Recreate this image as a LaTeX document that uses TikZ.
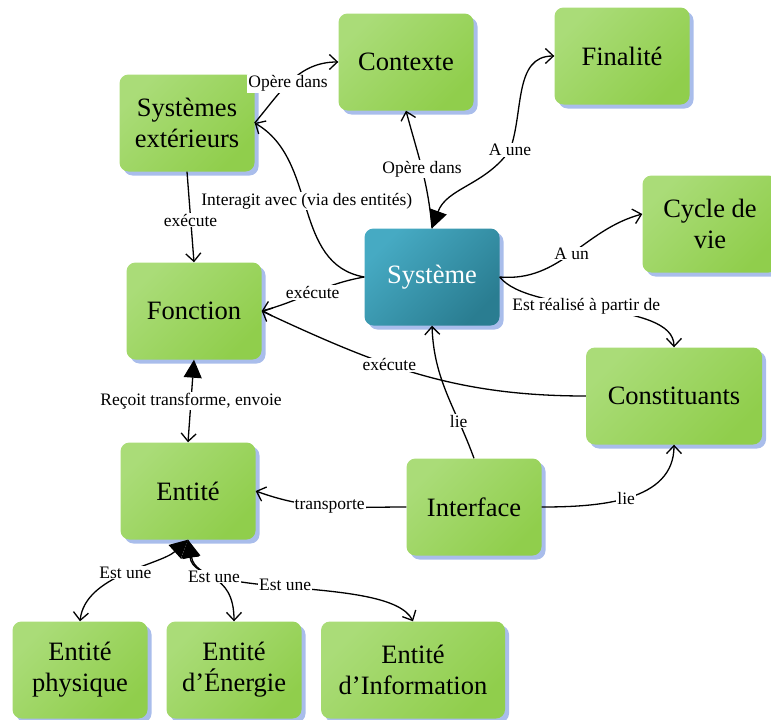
\documentclass[tikz,border=0pt]{standalone}
\usepackage{fontspec}
\setmainfont{Liberation Serif}
\usetikzlibrary{arrows.meta, shadows}

\definecolor{vertclair}{HTML}{AADC78}
\definecolor{vertfonce}{HTML}{90CE4C}
\definecolor{bleuclair}{HTML}{46AAC3}
\definecolor{bleufonce}{HTML}{2A7D91}
\definecolor{ombre}{HTML}{A9BDEB}

\begin{document}
\begin{tikzpicture}[x=1pt,y=-1pt,
  concept/.style={rectangle, rounded corners=9pt, minimum width=135pt, minimum height=97pt,
    top color=vertclair, bottom color=vertfonce, shading angle=45, align=center,
    font=\fontsize{26.5}{31}\selectfont,
    drop shadow={shadow xshift=4pt, shadow yshift=-4pt, fill=ombre, opacity=1}},
  central/.style={concept, top color=bleuclair, bottom color=bleufonce, shading angle=45, text=white},
  lien/.style={line width=1.3pt, -{Straight Barb[length=8pt,width=15pt]}},
  lienplein/.style={line width=1.3pt, {Triangle[length=18pt,width=18pt]}-{Straight Barb[length=8pt,width=15pt]}},
  etiq/.style={fill=white, inner sep=1pt, font=\fontsize{17.5}{19}\selectfont}]
\useasboundingbox (0,0) rectangle (771,720);

\node[concept] (contexte) at (406,62) {Contexte};
\node[concept] (finalite) at (622,56) {Finalité};
\node[concept] (sysext) at (187,123) {Systèmes\\extérieurs};
\node[concept] (cycle) at (710,224) {Cycle de\\vie};
\node[central] (systeme) at (432,277) {Système};
\node[concept] (fonction) at (194,311) {Fonction};
\node[concept, minimum width=176pt] (constit) at (674,396) {Constituants};
\node[concept] (entite) at (188,491) {Entité};
\node[concept] (interface) at (474,507) {Interface};
\node[concept] (ephys) at (80,670) {Entité\\physique};
\node[concept] (eenerg) at (234,670) {Entité\\d’Énergie};
\node[concept, minimum width=184pt] (einfo) at (413,670) {Entité\\d’Information};

\draw[lien] (sysext.east) to[out=50,in=180] node[etiq,pos=0.46]{Opère dans} (contexte.west);
\draw[lien] (systeme.north) to[out=95,in=-75] node[etiq]{Opère dans} (contexte.south);
\draw[lienplein] (systeme.north) to[out=70,in=235] (510,150) node[etiq]{A une} to[out=70,in=180] (finalite.west);
\draw[lien] (systeme.east) to[out=-5,in=195] node[etiq,pos=0.5]{A un} ([yshift=10pt]cycle.west);
\draw[lien] (systeme.east) .. controls (530,315) and (674,300) .. (constit.north) node[etiq,pos=0.45]{Est réalisé à partir de};
\draw[lien] (systeme.west) to[out=190,in=15] node[etiq]{exécute} (fonction.east);
\draw[lien] (systeme.west) to[out=170,in=-30] node[etiq,pos=0.54,xshift=3pt]{Interagit avec (via des entités)} (sysext.east);
\draw[lien] (sysext.south) -- node[etiq,pos=0.5,yshift=-3pt]{exécute} (fonction.north);
\draw[lien] (constit.west) to[out=180,in=-25] node[etiq,pos=0.6]{exécute} (fonction.east);
\draw[lienplein] (fonction.south) -- node[etiq]{Reçoit transforme, envoie} (entite.north);
\draw[lien] (interface.north) to[out=110,in=-88] node[etiq,pos=0.27]{lie} (systeme.south);
\draw[lien] (interface.east) to[out=0,in=-90] node[etiq,pos=0.48]{lie} (constit.south);
\draw[lien] (interface.west) to[out=180,in=-20] node[etiq]{transporte} (entite.east);
\draw[lienplein] (entite.south) .. controls (160,565) and (85,575) .. (ephys.north) node[etiq,pos=0.5]{Est une};
\draw[lienplein] (entite.south) .. controls (195,600) and (390,575) .. (einfo.north) node[etiq,pos=0.47]{Est une};
\draw[lienplein] (entite.south) .. controls (196,580) and (234,570) .. (eenerg.north) node[etiq,pos=0.5]{Est une};
\end{tikzpicture}
\end{document}
